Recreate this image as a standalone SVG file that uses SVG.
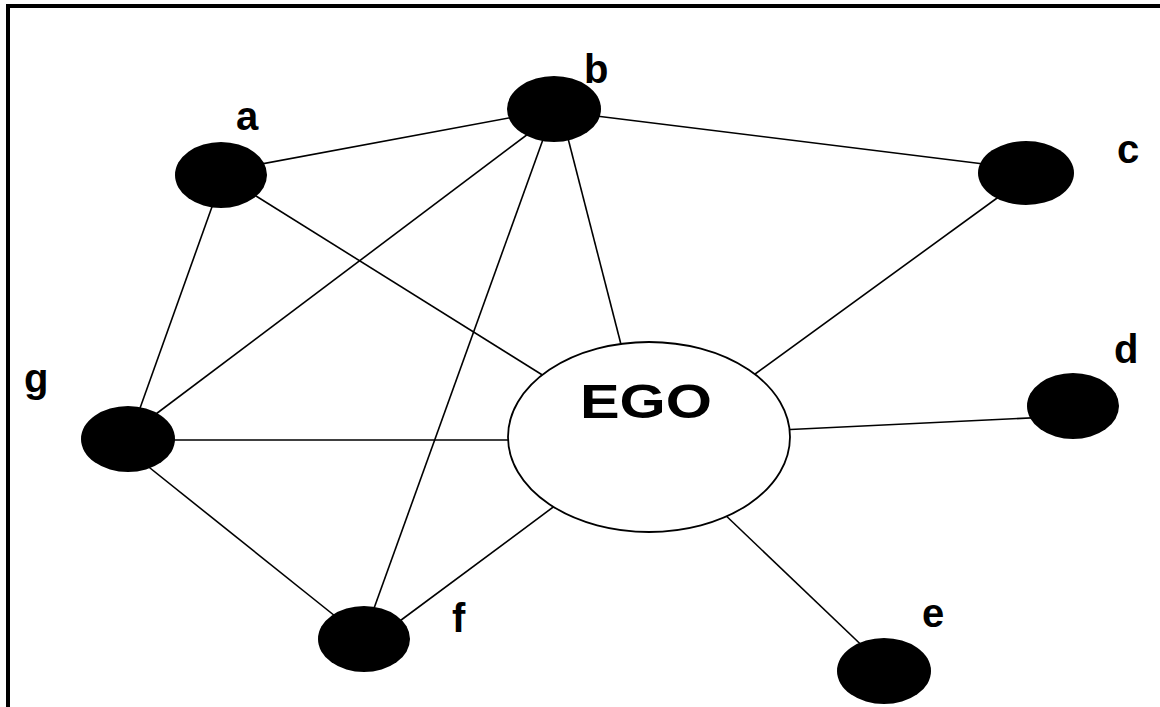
<svg xmlns="http://www.w3.org/2000/svg" width="1160" height="707" viewBox="0 0 1160 707">
<style>
.edge{stroke:#000;stroke-width:1.6;fill:none}
.node{fill:#000}
.ego{fill:#fff;stroke:#000;stroke-width:1.8}
.lbl{font-family:"Liberation Sans",Arial,sans-serif;font-weight:bold;font-size:40px;fill:#000}
.frame{stroke:#000;stroke-width:4;fill:none}
</style>
<rect width="1160" height="707" fill="#fff"/>
<g id="frame">
<polyline class="frame" points="8,707 8,6 1160,6"/>
</g>
<g id="connectors">
<line class="edge" x1="240" y1="168" x2="530" y2="114"/>
<line class="edge" x1="580" y1="114" x2="1000" y2="166"/>
<line class="edge" x1="240" y1="186" x2="560" y2="386"/>
<line class="edge" x1="218" y1="190" x2="134" y2="425"/>
<line class="edge" x1="540" y1="125" x2="140" y2="426"/>
<line class="edge" x1="550" y1="120" x2="368" y2="625"/>
<line class="edge" x1="562" y1="115" x2="625" y2="360"/>
<line class="edge" x1="1015" y1="185" x2="740" y2="385"/>
<line class="edge" x1="150" y1="440" x2="520" y2="440"/>
<line class="edge" x1="780" y1="430" x2="1050" y2="417"/>
<line class="edge" x1="140" y1="460" x2="350" y2="628"/>
<line class="edge" x1="385" y1="632" x2="560" y2="502"/>
<line class="edge" x1="720" y1="510" x2="875" y2="658"/>
</g>
<g id="node-a"><ellipse class="node" cx="221" cy="175" rx="46" ry="33"/><text class="lbl" x="236" y="130">a</text></g>
<g id="node-b"><ellipse class="node" cx="554" cy="109" rx="47" ry="33"/><text class="lbl" x="584" y="83">b</text></g>
<g id="node-c"><ellipse class="node" cx="1026" cy="173" rx="48" ry="32"/><text class="lbl" x="1117" y="163">c</text></g>
<g id="node-d"><ellipse class="node" cx="1073" cy="406" rx="46" ry="33"/><text class="lbl" x="1114" y="363">d</text></g>
<g id="node-e"><ellipse class="node" cx="884" cy="671" rx="47" ry="33"/><text class="lbl" x="922" y="627">e</text></g>
<g id="node-f"><ellipse class="node" cx="364" cy="639" rx="46" ry="33"/><text class="lbl" x="452" y="632">f</text></g>
<g id="node-g"><ellipse class="node" cx="128" cy="439" rx="47" ry="33"/><text class="lbl" x="24" y="392">g</text></g>
<g id="node-ego"><ellipse class="ego" cx="649" cy="437" rx="141" ry="95"/><text class="lbl" x="580" y="418" textLength="132" lengthAdjust="spacingAndGlyphs" style="font-size:48px">EGO</text></g>
</svg>
